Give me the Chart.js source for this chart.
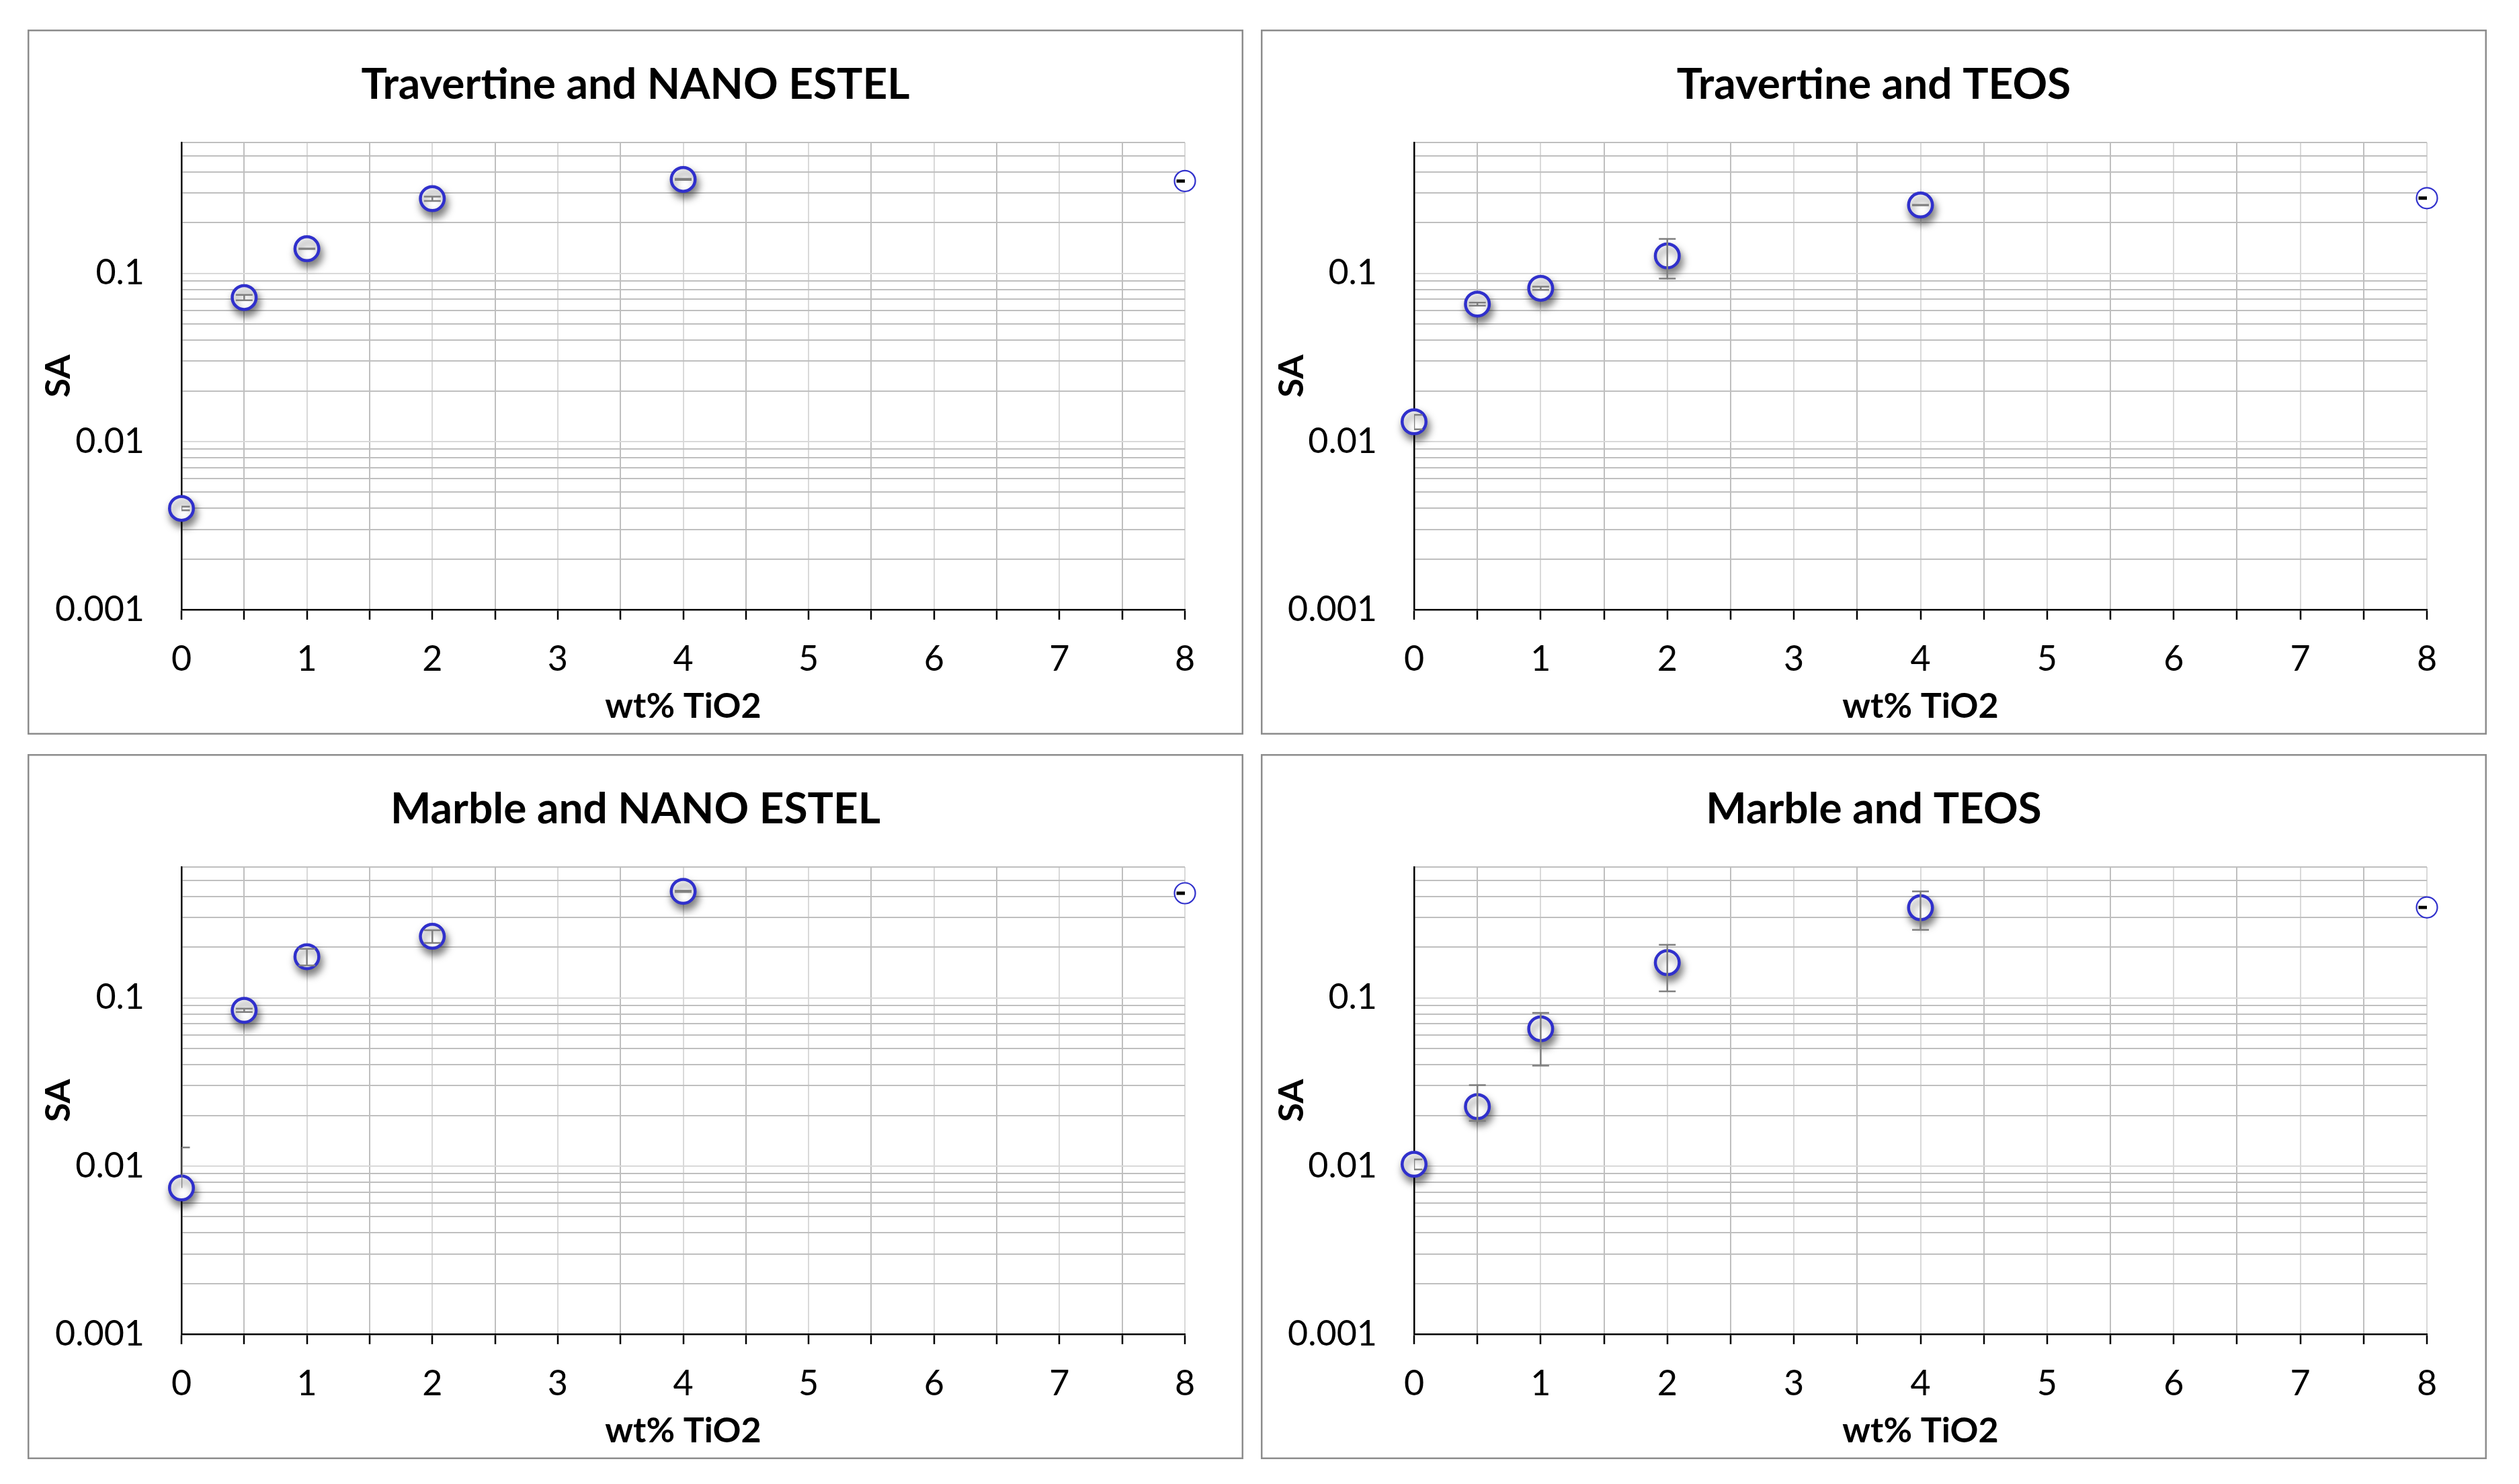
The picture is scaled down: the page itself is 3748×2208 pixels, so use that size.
<!DOCTYPE html>
<html>
<head>
<meta charset="utf-8">
<script src="https://cdn.jsdelivr.net/npm/chart.js@4.4.1/dist/chart.umd.min.js"></script>
<style>
  html, body { margin: 0; padding: 0; background: #ffffff; }
  body { width: 3748px; height: 2208px; position: relative; overflow: hidden; }
  .panel { position: absolute; }
  .panel canvas { display: block; }
</style>
</head>
<body>
<div class="panel" style="left:41px;top:44px;width:1809px;height:1049px"><canvas id="c1"></canvas></div>
<div class="panel" style="left:1876px;top:44px;width:1824px;height:1049px"><canvas id="c2"></canvas></div>
<div class="panel" style="left:41px;top:1122px;width:1809px;height:1049px"><canvas id="c3"></canvas></div>
<div class="panel" style="left:1876px;top:1122px;width:1824px;height:1049px"><canvas id="c4"></canvas></div>
<script>
// ---------------- data ----------------
const wtTiO2 = [0, 0.5, 1, 2, 4, 8];
const xTickLabels = ['0', '1', '2', '3', '4', '5', '6', '7', '8'];
const yTickLabels = ['0.001', '0.01', '0.1'];
const yMax = 0.6;

const chartTitles = ['Travertine and NANO ESTEL', 'Travertine and TEOS', 'Marble and NANO ESTEL', 'Marble and TEOS'];

const travNanoSA    = [0.0040, 0.0718, 0.140, 0.278, 0.362, 0.354];
const travNanoPlus  = [0.0001, 0.0027, 0.0005, 0.0083, 0.003, 0.002];
const travNanoMinus = [0.0001, 0.0027, 0.0005, 0.0083, 0.003, 0.002];

const travTeosSA    = [0.0131, 0.0656, 0.0815, 0.127, 0.2547, 0.280];
const travTeosPlus  = [0.0013, 0.0014, 0.0018, 0.033, 0.001, 0.002];
const travTeosMinus = [0.0013, 0.0014, 0.0018, 0.034, 0.001, 0.002];

const marbNanoSA    = [0.0074, 0.0843, 0.1757, 0.2323, 0.430, 0.419];
const marbNanoPlus  = [0.0055, 0.002, 0.02, 0.02, 0.004, 0.003];
const marbNanoMinus = [0, 0.002, 0.02, 0.02, 0.004, 0.003];

const marbTeosSA    = [0.01024, 0.02255, 0.0655, 0.1619, 0.3436, 0.345];
const marbTeosPlus  = [0.0007, 0.0077, 0.016, 0.045, 0.086, 0.002];
const marbTeosMinus = [0.0007, 0.004, 0.026, 0.0526, 0.090, 0.002];

// ---------------- helpers ----------------
const FONT = 'Lato, Carlito, "Open Sans", sans-serif';
const MARKER_BLUE = '#3030cc';
const GRID_MAJOR = '#d9d9d9';
const GRID_MINOR = '#bfbfbf';

function isPow10(v) {
  const e = Math.log10(v);
  return Math.abs(e - Math.round(e)) < 1e-6;
}
function yGridValues() {
  const out = [];
  yTickLabels.forEach(lbl => {
    const d = parseFloat(lbl);
    for (let s = 1; s <= 9; s++) {
      const v = parseFloat((s * d).toPrecision(6));
      if (v <= yMax + 1e-12) out.push(v);
    }
  });
  return out;
}

const panelBorder = {
  id: 'panelBorder',
  beforeDraw(chart) {
    const c = chart.ctx;
    c.save();
    c.fillStyle = '#ffffff';
    c.fillRect(0, 0, chart.width, chart.height);
    c.strokeStyle = '#8c8c8c';
    c.lineWidth = 2.5;
    c.strokeRect(1.25, 1.25, chart.width - 2.5, chart.height - 2.5);
    c.restore();
  }
};

const markerShadow = {
  id: 'markerShadow',
  beforeDatasetDraw(chart, args) {
    const ds = chart.data.datasets[args.index];
    if (ds.shadow) {
      const c = chart.ctx;
      c.save();
      c.shadowColor = 'rgba(0,0,0,0.5)';
      c.shadowBlur = 12;
      c.shadowOffsetX = 3;
      c.shadowOffsetY = 8;
    }
  },
  afterDatasetDraw(chart, args) {
    if (chart.data.datasets[args.index].shadow) chart.ctx.restore();
  }
};

const errorBars = {
  id: 'errorBars',
  afterDatasetsDraw(chart) {
    const c = chart.ctx;
    const a = chart.chartArea;
    const ys = chart.scales.y;
    c.save();
    c.beginPath();
    c.rect(a.left, a.top, a.right - a.left, a.bottom - a.top);
    c.clip();
    chart.data.datasets.forEach((ds, di) => {
      const meta = chart.getDatasetMeta(di);
      meta.data.forEach((pt, i) => {
        const v = ds.data[i].y;
        const up = ds.errPlus[i], dn = ds.errMinus[i];
        const yTop = up > 0 ? ys.getPixelForValue(v + up) : pt.y;
        const yBot = dn > 0 ? ys.getPixelForValue(v - dn) : pt.y;
        const cap = 12.5;
        c.strokeStyle = ds.errColor;
        c.lineWidth = ds.errWidth;
        c.beginPath();
        c.moveTo(pt.x, yTop);
        c.lineTo(pt.x, yBot);
        if (up > 0) { c.moveTo(pt.x - cap, yTop); c.lineTo(pt.x + cap, yTop); }
        if (dn > 0) { c.moveTo(pt.x - cap, yBot); c.lineTo(pt.x + cap, yBot); }
        c.stroke();
      });
    });
    c.restore();
  }
};

function makePanel(canvasId, title, sa, plus, minus, yWidth, padRight) {
  const n = wtTiO2.length;
  const pts = wtTiO2.map((x, i) => ({ x: x, y: sa[i] }));
  const datasets = [
    {
      data: pts.slice(0, n - 1),
      errPlus: plus.slice(0, n - 1),
      errMinus: minus.slice(0, n - 1),
      errColor: '#7f7f7f', errWidth: 2.5,
      shadow: true,
      showLine: false,
      pointStyle: 'circle',
      pointRadius: 17.75,
      pointBorderWidth: 4.5,
      pointBorderColor: MARKER_BLUE,
      pointBackgroundColor: '#ffffff',
      clip: false
    },
    {
      data: pts.slice(n - 1),
      errPlus: plus.slice(n - 1),
      errMinus: minus.slice(n - 1),
      errColor: '#000000', errWidth: 3.5,
      shadow: false,
      showLine: false,
      pointStyle: 'circle',
      pointRadius: 15.5,
      pointBorderWidth: 2.2,
      pointBorderColor: MARKER_BLUE,
      pointBackgroundColor: '#ffffff',
      clip: false
    }
  ];
  const yGrid = yGridValues();
  return new Chart(document.getElementById(canvasId), {
    type: 'scatter',
    data: { datasets: datasets },
    plugins: [panelBorder, markerShadow, errorBars],
    options: {
      responsive: true,
      maintainAspectRatio: false,
      animation: false,
      events: [],
      layout: { padding: 0 },
      plugins: {
        legend: { display: false },
        tooltip: { enabled: false },
        title: {
          display: true,
          text: title,
          color: '#000000',
          font: { family: FONT, size: 64, weight: 'bold' },
          padding: { top: 44.2, bottom: 47 }
        }
      },
      scales: {
        x: {
          type: 'linear',
          min: 0, max: 8,
          ticks: {
            stepSize: 0.5,
            autoSkip: false,
            maxRotation: 0,
            color: '#000000',
            font: { family: FONT, size: 52 },
            padding: 28,
            callback: (v) => {
              const r = Math.round(v);
              return Math.abs(v - r) < 1e-9 ? xTickLabels[r] : '';
            }
          },
          grid: {
            color: (ctx) => {
              const v = ctx.tick ? ctx.tick.value : 0;
              return Math.abs(v - Math.round(v)) < 1e-9 ? GRID_MAJOR : GRID_MINOR;
            },
            lineWidth: 2,
            drawTicks: true,
            tickLength: 15,
            tickColor: '#000000',
            tickWidth: 2.5
          },
          border: { color: '#000000', width: 2.5 },
          title: {
            display: true,
            text: 'wt% TiO2',
            color: '#000000',
            font: { family: FONT, size: 52, weight: 'bold' },
            padding: { top: 0, bottom: 11 }
          },
          afterFit: (s) => { s.height = 186; s.paddingLeft = 0; s.paddingRight = padRight; }
        },
        y: {
          type: 'logarithmic',
          min: 0.001, max: yMax,
          afterBuildTicks: (s) => { s.ticks = yGrid.map(v => ({ value: v })); },
          ticks: {
            autoSkip: false,
            color: '#000000',
            font: { family: FONT, size: 52 },
            padding: 55,
            callback: (v) => isPow10(v) ? yTickLabels[Math.round(Math.log10(v)) + 3] : ''
          },
          grid: {
            color: (ctx) => (ctx.tick && isPow10(ctx.tick.value)) ? GRID_MAJOR : GRID_MINOR,
            lineWidth: 2,
            drawTicks: false
          },
          border: { color: '#000000', width: 2.5 },
          title: {
            display: true,
            text: 'SA',
            color: '#000000',
            font: { family: FONT, size: 52, weight: 'bold' },
            padding: { top: 15, bottom: 0 }
          },
          afterFit: (s) => { s.width = yWidth; s.paddingTop = 0; s.paddingBottom = 0; }
        }
      }
    }
  });
}

function build() {
  makePanel('c1', chartTitles[0], travNanoSA, travNanoPlus, travNanoMinus, 229, 87);
  makePanel('c2', chartTitles[1], travTeosSA, travTeosPlus, travTeosMinus, 228, 89);
  makePanel('c3', chartTitles[2], marbNanoSA, marbNanoPlus, marbNanoMinus, 229, 87);
  makePanel('c4', chartTitles[3], marbTeosSA, marbTeosPlus, marbTeosMinus, 228, 89);
}

if (document.fonts && document.fonts.load) {
  Promise.all([
    document.fonts.load('60px Lato'),
    document.fonts.load('bold 60px Lato')
  ]).then(build, build);
} else {
  build();
}
</script>
</body>
</html>
